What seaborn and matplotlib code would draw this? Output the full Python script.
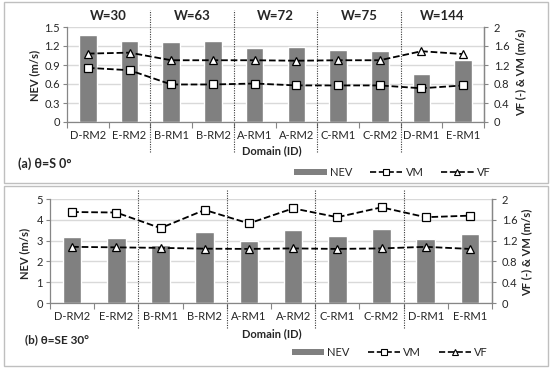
import numpy as np
import pandas as pd
import matplotlib
matplotlib.use("Agg")
import matplotlib.pyplot as plt
import matplotlib.transforms as mtrans
import seaborn as sns
from matplotlib.patches import Rectangle, Patch
from matplotlib.lines import Line2D
from matplotlib.ticker import FixedLocator

domains = ["D-RM2", "E-RM2", "B-RM1", "B-RM2", "A-RM1", "A-RM2", "C-RM1", "C-RM2", "D-RM1", "E-RM1"]
groups = ["W=30", "W=63", "W=72", "W=75", "W=144"]

nev_a = [1.37, 1.28, 1.27, 1.28, 1.17, 1.19, 1.14, 1.12, 0.76, 0.98]
vm_a = [1.14, 1.09, 0.79, 0.79, 0.81, 0.77, 0.77, 0.77, 0.71, 0.77]
vf_a = [1.44, 1.46, 1.30, 1.30, 1.30, 1.29, 1.30, 1.30, 1.49, 1.43]

nev_b = [3.17, 3.11, 2.79, 3.43, 3.00, 3.51, 3.24, 3.58, 3.07, 3.32]
vm_b = [1.75, 1.74, 1.44, 1.79, 1.53, 1.82, 1.65, 1.84, 1.65, 1.68]
vf_b = [1.08, 1.07, 1.06, 1.045, 1.04, 1.05, 1.04, 1.05, 1.08, 1.04]

left_ticks_a = [0, 0.3, 0.6, 0.9, 1.2, 1.5]
left_ticks_b = [0, 1, 2, 3, 4, 5]
right_ticks = [0, 0.4, 0.8, 1.2, 1.6, 2]

sns.set_theme(style="white")
FAM = ["Lato", "DejaVu Sans"]
plt.rcParams["font.family"] = FAM
TXT = "#262626"
SPINE = "#868686"
BAR = "#808080"

W, H = 550, 369
fig = plt.figure(figsize=(5.5, 3.69), dpi=100)


def fx(px):
    return px / W


def fy(py):
    return 1 - py / H


def panel(left, right, top, bottom, nev, vm, vf, lticks, lfmt, sep_top, sep_bot):
    ax = fig.add_axes([fx(left), fy(bottom), fx(right - left), (bottom - top) / H])
    df = pd.DataFrame({"Domain": domains, "NEV": nev})
    sns.barplot(data=df, x="Domain", y="NEV", color=BAR, saturation=1, width=0.42, ax=ax)
    ax.set_xlim(-0.5, len(domains) - 0.5)
    ax.set_ylim(lticks[0], lticks[-1])
    ax.set_yticks(lticks)
    ax.set_yticklabels([lfmt(t) for t in lticks])
    ax.set_xlabel("")
    ax.set_ylabel("")
    ax.yaxis.grid(True, color="#d9d9d9", lw=1)
    ax.set_axisbelow(True)
    ax.spines["top"].set_visible(False)
    for s in ["left", "bottom", "right"]:
        ax.spines[s].set_color(SPINE)
        ax.spines[s].set_linewidth(0.9)
    ax.tick_params(axis="y", direction="out", length=3, width=0.8, color=SPINE,
                   labelsize=8, labelcolor=TXT, pad=2, left=True)
    ax.tick_params(axis="x", which="major", length=0, labelsize=8, labelcolor=TXT, pad=6)
    ax.xaxis.set_minor_locator(FixedLocator(np.arange(-0.5, len(domains), 1.0)))
    ax.tick_params(axis="x", which="minor", direction="out", length=4, width=0.8,
                   color=SPINE, bottom=True)

    ax2 = ax.twinx()
    pos = np.arange(len(domains))
    sns.lineplot(x=pos, y=vm, ax=ax2, color="black", linestyle="--", lw=1.3,
                 marker="s", markersize=5.5, markerfacecolor="white",
                 markeredgecolor="black", markeredgewidth=0.9)
    sns.lineplot(x=pos, y=vf, ax=ax2, color="black", linestyle="--", lw=1.3,
                 marker="^", markersize=6, markerfacecolor="white",
                 markeredgecolor="black", markeredgewidth=0.9)
    ax2.set_xlim(-0.5, len(domains) - 0.5)
    ax2.set_ylim(0, 2)
    ax2.set_yticks(right_ticks)
    ax2.set_yticklabels([("%g" % t) for t in right_ticks])
    ax2.set_ylabel("")
    ax2.grid(False)
    for s in ["top", "left", "bottom"]:
        ax2.spines[s].set_visible(False)
    ax2.spines["right"].set_color(SPINE)
    ax2.spines["right"].set_linewidth(0.9)
    ax2.tick_params(axis="y", direction="out", length=3, width=0.8, color=SPINE,
                    labelsize=8, labelcolor=TXT, pad=4, right=True)

    h = bottom - top
    ymax = (bottom - sep_top) / h
    ymin = (bottom - sep_bot) / h
    for b in np.arange(1.5, len(domains) - 1, 2):
        ax.axvline(b, ymin=ymin, ymax=ymax, clip_on=False, color="#3a3a3a",
                   lw=0.8, ls=(0, (1, 1.2)))
    return ax, ax2


def box(top, bottom):
    fig.patches.append(Rectangle((fx(4), fy(bottom)), fx(544), (bottom - top) / H,
                                 transform=fig.transFigure, fill=False,
                                 edgecolor="#bfbfbf", lw=1))


def legend(cx, cy):
    handles = [
        Patch(facecolor=BAR, edgecolor="none", label="NEV"),
        Line2D([], [], color="black", ls="--", lw=1.2, marker="s", markersize=4.5,
               markerfacecolor="white", markeredgecolor="black", markeredgewidth=0.8, label="VM"),
        Line2D([], [], color="black", ls="--", lw=1.2, marker="^", markersize=5,
               markerfacecolor="white", markeredgecolor="black", markeredgewidth=0.8, label="VF"),
    ]
    fig.legend(handles=handles, loc="center", bbox_to_anchor=(fx(cx), fy(cy)), ncol=3,
               frameon=False, fontsize=8, handlelength=2.9, handleheight=0.45,
               columnspacing=1.6, handletextpad=0.3, labelcolor=TXT,
               borderpad=0, borderaxespad=0)


# Panel (a)
box(2, 183)
ax_a, ax_a2 = panel(67, 484, 27, 122, nev_a, vm_a, vf_a, left_ticks_a,
                    lambda t: "%g" % t, 10, 152)
blend = mtrans.blended_transform_factory(ax_a.transData, fig.transFigure)
for i, g in enumerate(groups):
    ax_a.text(2 * i + 0.5, fy(16), g, transform=blend,
              ha="center", va="center", fontsize=9.5, fontweight="bold", color=TXT)
fig.text(fx(35), fy(75), "NEV (m/s)", rotation=90, ha="center", va="center",
         fontsize=8, fontweight="bold", color=TXT)
fig.text(fx(521), fy(72), "VF (-) & VM (m/s)", rotation=90, ha="center", va="center",
         fontsize=8, fontweight="bold", color=TXT)
fig.text(fx(272), fy(151), "Domain (ID)", ha="center", va="center",
         fontsize=8, fontweight="bold", color=TXT)
fig.text(fx(18), fy(164), "(a) θ=S 0°", ha="left", va="center", fontsize=9,
         fontweight="bold", color=TXT, family=FAM)
legend(392.5, 172)

# Panel (b)
box(186, 366)
ax_b, ax_b2 = panel(50, 492, 199, 303, nev_b, vm_b, vf_b, left_ticks_b,
                    lambda t: "%d" % t, 190, 328)
fig.text(fx(25), fy(253), "NEV (m/s)", rotation=90, ha="center", va="center",
         fontsize=8, fontweight="bold", color=TXT)
fig.text(fx(527), fy(252), "VF (-) & VM (m/s)", rotation=90, ha="center", va="center",
         fontsize=8, fontweight="bold", color=TXT)
fig.text(fx(272), fy(334), "Domain (ID)", ha="center", va="center",
         fontsize=8, fontweight="bold", color=TXT)
fig.text(fx(25), fy(340), "(b) θ=SE 30°", ha="left", va="center", fontsize=8.5,
         fontweight="bold", color=TXT, family=FAM)
legend(390, 352)

fig.savefig("out.png", dpi=100)
